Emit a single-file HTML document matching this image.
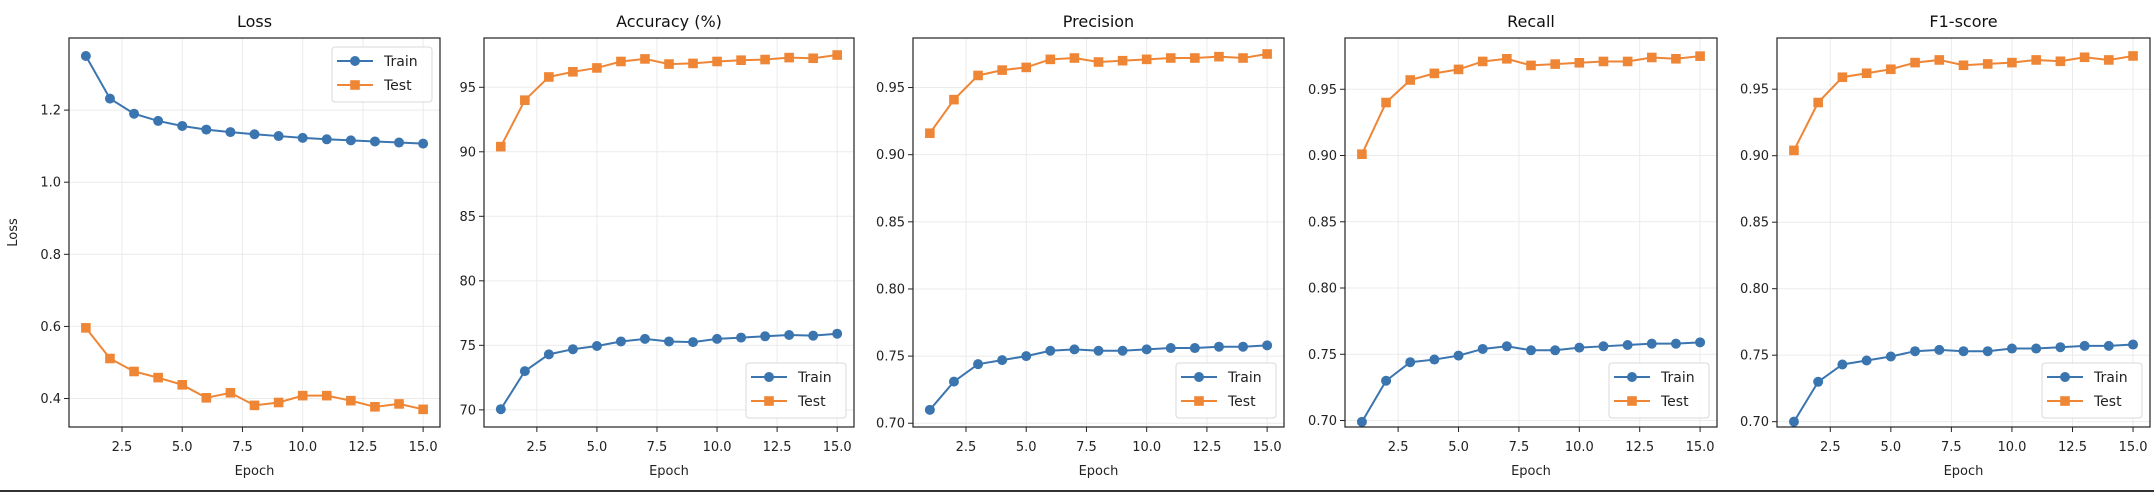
<!DOCTYPE html>
<html><head><meta charset="utf-8">
<style>
html,body{margin:0;padding:0;background:#fff;}
svg{display:block;font-family:"DejaVu Sans","Liberation Sans",sans-serif;}
</style></head>
<body>
<svg id="chart" width="2154" height="492" viewBox="0 0 2154 492" xmlns="http://www.w3.org/2000/svg">
<rect x="0" y="0" width="2154" height="492" fill="#fff"/>
<rect x="0" y="490" width="2154" height="2" fill="#333"/>
</svg>
<script>
const epochs = [1,2,3,4,5,6,7,8,9,10,11,12,13,14,15];
const xTicks = [2.5,5.0,7.5,10.0,12.5,15.0];
const lossTrain = [1.35,1.232,1.19,1.17,1.156,1.146,1.139,1.133,1.128,1.123,1.119,1.116,1.113,1.110,1.107];
const lossTest = [0.596,0.511,0.475,0.458,0.438,0.402,0.416,0.381,0.389,0.408,0.408,0.394,0.377,0.385,0.370];
const accTrain = [70.05,73.0,74.3,74.7,74.95,75.3,75.5,75.3,75.25,75.5,75.6,75.7,75.8,75.75,75.9];
const accTest = [90.4,94.0,95.8,96.2,96.5,97.0,97.2,96.8,96.85,97.0,97.1,97.15,97.3,97.25,97.5];
const precTrain = [0.710,0.731,0.744,0.747,0.750,0.754,0.755,0.754,0.754,0.755,0.756,0.756,0.757,0.757,0.758];
const precTest = [0.916,0.941,0.959,0.963,0.965,0.971,0.972,0.969,0.970,0.971,0.972,0.972,0.973,0.972,0.975];
const recTrain = [0.699,0.730,0.744,0.746,0.749,0.754,0.756,0.753,0.753,0.755,0.756,0.757,0.758,0.758,0.759];
const recTest = [0.901,0.940,0.957,0.962,0.965,0.971,0.973,0.968,0.969,0.970,0.971,0.971,0.974,0.973,0.975];
const f1Train = [0.700,0.730,0.743,0.746,0.749,0.753,0.754,0.753,0.753,0.755,0.755,0.756,0.757,0.757,0.758];
const f1Test = [0.904,0.940,0.959,0.962,0.965,0.970,0.972,0.968,0.969,0.970,0.972,0.971,0.974,0.972,0.975];
const lossTicks = ["0.4","0.6","0.8","1.0","1.2"];
const accTicks = ["70","75","80","85","90","95"];
const scoreTicks = ["0.70","0.75","0.80","0.85","0.90","0.95"];

const panels = [
 {name:"loss",title:"Loss",ylabel:"Loss",left:69,right:440,ymin:0.321,ymax:1.4,ticks:lossTicks,train:lossTrain,test:lossTest,legend:"top"},
 {name:"accuracy",title:"Accuracy (%)",left:484,right:854,ymin:68.67,ymax:98.82,ticks:accTicks,train:accTrain,test:accTest,legend:"bottom"},
 {name:"precision",title:"Precision",left:913,right:1284,ymin:0.6972,ymax:0.9869,ticks:scoreTicks,train:precTrain,test:precTest,legend:"bottom"},
 {name:"recall",title:"Recall",left:1345,right:1717,ymin:0.6951,ymax:0.9887,ticks:scoreTicks,train:recTrain,test:recTest,legend:"bottom"},
 {name:"f1",title:"F1-score",left:1777,right:2150,ymin:0.6960,ymax:0.9885,ticks:scoreTicks,train:f1Train,test:f1Test,legend:"bottom"}
];
const TOP=38, BOTTOM=427, XMIN=0.3, XMAX=15.7;
const BLUE="#3b75af", ORANGE="#ef8636";
const svg=document.getElementById('chart');
const NS="http://www.w3.org/2000/svg";
function mk(tag,attrs,parent){const e=document.createElementNS(NS,tag);for(const k in attrs)e.setAttribute(k,attrs[k]);(parent||svg).appendChild(e);return e;}

panels.forEach(p=>{
  const g=mk('g',{});
  
  
  const xs=v=>p.left+(v-XMIN)/(XMAX-XMIN)*(p.right-p.left);
  const ys=v=>BOTTOM-(v-p.ymin)/(p.ymax-p.ymin)*(BOTTOM-TOP);
  xTicks.forEach(t=>{
    const x=xs(t);
    const gl=mk('line',{x1:x,x2:x,y1:TOP,y2:BOTTOM,stroke:"#ebebeb","stroke-width":1},g);
    
    
    mk('line',{x1:x,x2:x,y1:BOTTOM,y2:BOTTOM+5,stroke:"#222","stroke-width":1},g);
    const tl=mk('text',{x:x,y:451,"text-anchor":"middle","font-size":"13px",fill:"#222"},g);
    tl.textContent=t.toFixed(1);
    
    
  });
  p.ticks.forEach(t=>{
    const y=ys(parseFloat(t));
    const gl=mk('line',{x1:p.left,x2:p.right,y1:y,y2:y,stroke:"#ebebeb","stroke-width":1},g);
    
    
    mk('line',{x1:p.left-5,x2:p.left,y1:y,y2:y,stroke:"#222","stroke-width":1},g);
    const tl=mk('text',{x:p.left-8,y:y+4.5,"text-anchor":"end","font-size":"13px",fill:"#222"},g);
    tl.textContent=t;
    
    
  });
  [[p.train,BLUE,"train"],[p.test,ORANGE,"test"]].forEach(([vals,col,nm])=>{
    const pts=vals.map((v,i)=>xs(epochs[i])+","+ys(v)).join(" ");
    const pl=mk('polyline',{points:pts,fill:"none",stroke:col,"stroke-width":2},g);
    
    
    vals.forEach((v,i)=>{
      let m;
      if(nm==="train") m=mk('circle',{cx:xs(epochs[i]),cy:ys(v),r:5,fill:col},g);
      else m=mk('rect',{x:xs(epochs[i])-4.8,y:ys(v)-4.8,width:9.6,height:9.6,fill:col},g);
      
      
    });
  });
  const fr=mk('rect',{x:p.left,y:TOP,width:p.right-p.left,height:BOTTOM-TOP,fill:"none",stroke:"#222","stroke-width":1.2},g);
  
  
  const ti=mk('text',{x:(p.left+p.right)/2,y:27,"text-anchor":"middle","font-size":"16px",fill:"#111"},g);
  ti.textContent=p.title;
  
  
  const xl=mk('text',{x:(p.left+p.right)/2,y:475,"text-anchor":"middle","font-size":"13px",fill:"#222"},g);
  xl.textContent="Epoch";
  
  
  if(p.ylabel){
    const yl=mk('text',{x:0,y:0,"text-anchor":"middle","font-size":"13px",fill:"#222",transform:"translate(17,"+((TOP+BOTTOM)/2)+") rotate(-90)"},g);
    yl.textContent=p.ylabel;
    
    
  }
  const lw=100, lh=55;
  const lx=p.right-8-lw;
  const ly=p.legend==="top"?47:BOTTOM-9-lh;
  const lg=mk('g',{},g);
  
  
  mk('rect',{x:lx,y:ly,width:lw,height:lh,rx:3,fill:"#fff","fill-opacity":0.85,stroke:"#d8d8d8","stroke-width":1},lg);
  [["Train",BLUE,14],["Test",ORANGE,38]].forEach(([lab,col,dy])=>{
    const e=mk('g',{},lg);
    
    
    const cy=ly+dy;
    mk('line',{x1:lx+5,x2:lx+41,y1:cy,y2:cy,stroke:col,"stroke-width":2},e);
    if(lab==="Train") mk('circle',{cx:lx+23,cy:cy,r:5,fill:col},e);
    else mk('rect',{x:lx+18.2,y:cy-4.8,width:9.6,height:9.6,fill:col},e);
    const t=mk('text',{x:lx+52,y:cy+5,"font-size":"14px",fill:"#222"},e);
    t.textContent=lab;
  });
});
</script>
</body></html>
